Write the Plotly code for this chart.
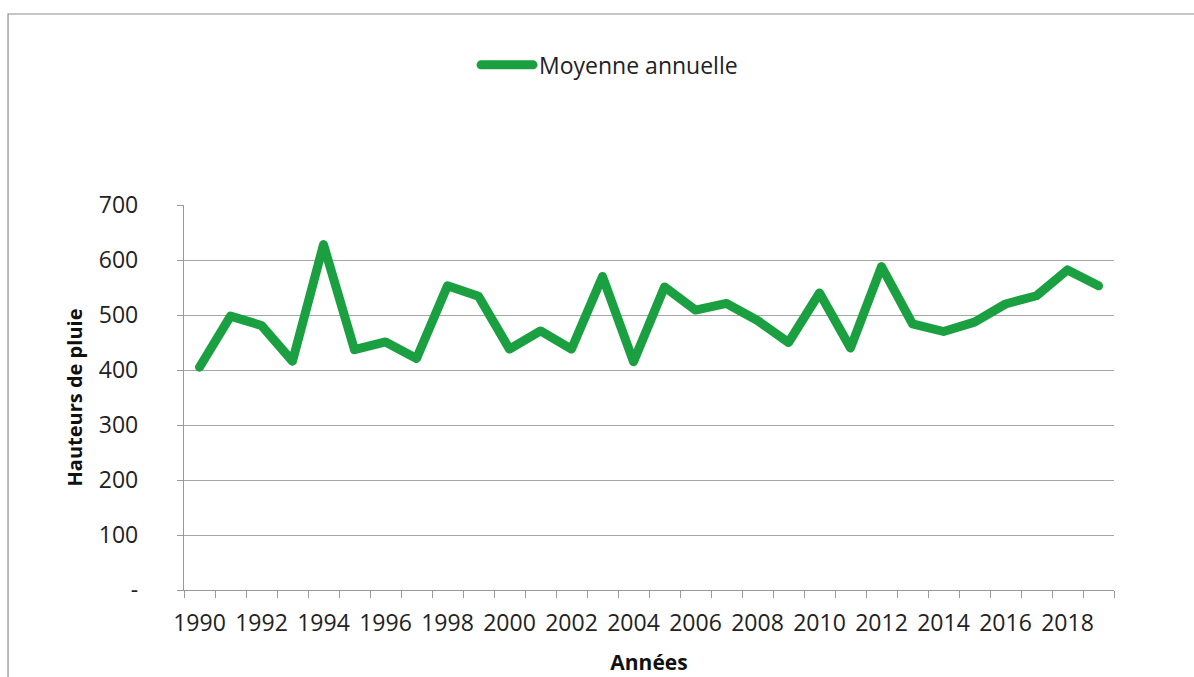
import plotly.graph_objects as go

years = list(range(1990, 2020))
rain = [405, 498, 481, 416, 628, 437, 451, 421, 553, 534,
        438, 471, 438, 570, 415, 551, 509, 521, 490, 450,
        540, 440, 588, 484, 470, 487, 520, 535, 582, 553]
series_name = "Moyenne annuelle"
y_ticks = [0, 100, 200, 300, 400, 500, 600, 700]
y_tick_text = ["-", "100", "200", "300", "400", "500", "600", "700"]
x_ticks = list(range(1990, 2019, 2))
x_title = "Années"
y_title = "Hauteurs de pluie"

GREEN = "#1a9f41"
GRAY = "#9a9a9a"
FONT = "Open Sans"

fig = go.Figure()
fig.add_trace(go.Scatter(
    x=years, y=rain, mode="lines", name=series_name,
    line=dict(color=GREEN, width=9),
))

fig.update_layout(
    width=1194, height=677,
    margin=dict(l=184, r=80, t=205, b=87),
    paper_bgcolor="white", plot_bgcolor="white",
    font=dict(family=FONT, size=23, color="#222222"),
    showlegend=True,
    legend=dict(x=0.3065, xanchor="left", y=1.364, yanchor="middle",
                orientation="h", itemwidth=60,
                font=dict(family=FONT, size=23, color="#222222"),
                bgcolor="rgba(0,0,0,0)", borderwidth=0),
    xaxis=dict(
        range=[1989.5, 2019.5], tickmode="array", tickvals=x_ticks,
        ticktext=[str(v) for v in x_ticks], ticks="",
        showgrid=False, zeroline=False,
        showline=True, linecolor=GRAY, linewidth=1.3,
        ticklabelstandoff=12,
        minor=dict(tick0=1989.5, dtick=1, ticks="outside", ticklen=7,
                   tickcolor=GRAY, tickwidth=1.3, showgrid=False),
        title=dict(text=x_title, font=dict(family=FONT, size=21, color="#111111",
                                           weight="bold"), standoff=18),
        automargin=False,
    ),
    yaxis=dict(
        range=[0, 700], tickmode="array", tickvals=y_ticks, ticktext=y_tick_text,
        ticks="outside", ticklen=6, tickcolor=GRAY, tickwidth=1.3,
        showgrid=True, gridcolor="#a6a6a6", gridwidth=1.3, zeroline=False,
        showline=True, linecolor=GRAY, linewidth=1.3,
        ticklabelstandoff=34,
        title=dict(text=y_title, font=dict(family=FONT, size=20, color="#111111",
                                           weight="bold"), standoff=10),
        automargin=False,
    ),
    shapes=[dict(type="rect", xref="paper", yref="paper",
                 x0=-0.1892, x1=1.25, y0=-0.34, y1=1.4961,
                 line=dict(color="#8c8c8c", width=1.2), fillcolor="rgba(0,0,0,0)",
                 layer="below")],
)

post = """
function rnd(){
  document.querySelectorAll('path.js-line').forEach(function(p){
    p.style.strokeLinejoin='round'; p.style.strokeLinecap='round';});
  document.querySelectorAll('g.legendlines path').forEach(function(p){
    p.setAttribute('d','M12,0h52');});
}
rnd();
setTimeout(rnd, 50); setTimeout(rnd, 300);
var gdl = document.getElementsByClassName('plotly-graph-div');
if (gdl.length && gdl[0].on) { gdl[0].on('plotly_afterplot', rnd); }
"""
fig.write_html("out.html", post_script=post)
